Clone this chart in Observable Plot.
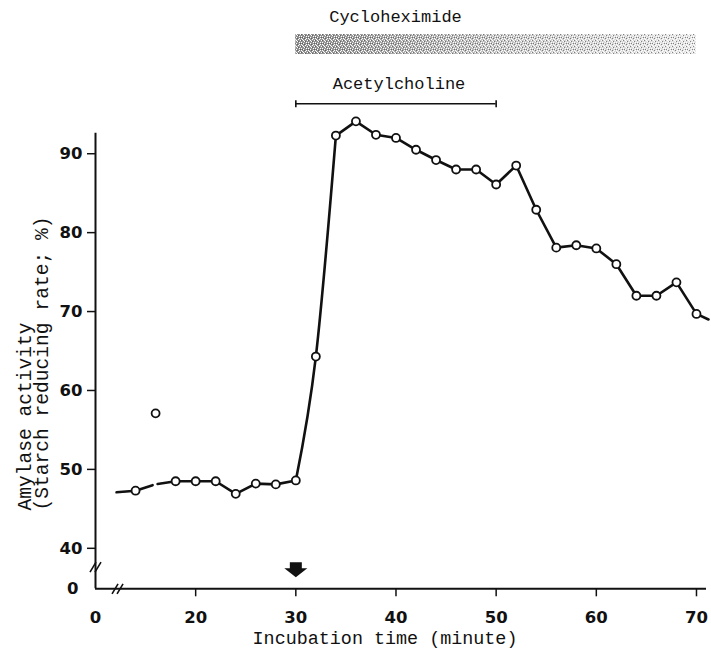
<!DOCTYPE html>
<html>
<head>
<meta charset="utf-8">
<script src="https://cdn.jsdelivr.net/npm/d3@7"></script>
<script src="https://cdn.jsdelivr.net/npm/@observablehq/plot@0.6"></script>
<style>
  html, body { margin: 0; padding: 0; background: #fff; }
</style>
</head>
<body>
<div id="chart"></div>
<script>
// Amylase activity during incubation (minutes), sampled every 2 min
const sampleTime = [14, 16, 18, 20, 22, 24, 26, 28, 30, 32, 34, 36, 38, 40, 42,
                    44, 46, 48, 50, 52, 54, 56, 58, 60, 62, 64, 66, 68, 70];
const sampleValue = [47.3, 57.1, 48.5, 48.5, 48.5, 46.9, 48.2, 48.1, 48.6, 64.3, 92.3, 94.1, 92.4, 92.0, 90.5,
                     89.2, 88.0, 88.0, 86.1, 88.5, 82.9, 78.1, 78.4, 78.0, 76.0, 72.0, 72.0, 73.7, 69.7];
const outlierTime = 16;            // plotted, but left off the trace

// hand-drawn trace: lead-in, break around 16 min, run-out past 70 min
const leadTime = [12.1, 15.7];
const leadValue = [47.1, 48.0];
const resumeTime = [16.2];
const resumeValue = [48.15];
const tailTime = [71.2];
const tailValue = [69.0];
const riseFrom = 30, riseTo = 34;  // smoothed stretch of the trace

// treatment periods (min)
const cycloheximide = [30, 70];
const acetylcholine = [30, 50];
const arrowTime = [30];

// axes
const xTicks = [20, 30, 40, 50, 60, 70];
const yTicks = [40, 50, 60, 70, 80, 90];
const xFloor = 10;      // origin drawn after the axis break, labelled 0
const yFloor = 34.87;   // likewise on the activity axis
const yTop = 92.6;

const xTitle = "Incubation time (minute)";
const yTitle = ["Amylase activity", "(Starch reducing rate; %)"];

const samples = sampleTime.map((t, i) => ({t, v: sampleValue[i]}));
const traced = samples.filter(d => d.t !== outlierTime);
const leadSeg = [
  {t: leadTime[0], v: leadValue[0]},
  ...traced.filter(d => d.t < leadTime[1]),
  {t: leadTime[1], v: leadValue[1]}
];
const baseSeg = [
  {t: resumeTime[0], v: resumeValue[0]},
  ...traced.filter(d => d.t > resumeTime[0] && d.t <= riseFrom)
];
const riseSeg = traced.filter(d => d.t >= riseFrom && d.t <= riseTo);
const plateauSeg = [
  ...traced.filter(d => d.t >= riseTo),
  {t: tailTime[0], v: tailValue[0]}
];

// small glyphs drawn through Plot.dot
const capSymbol = {draw(ctx) { ctx.moveTo(0, -3.5); ctx.lineTo(0, 3.5); }};
const arrowSymbol = {draw(ctx) {
  ctx.moveTo(-6, -7.5); ctx.lineTo(6, -7.5); ctx.lineTo(6, -1.5); ctx.lineTo(11.5, -1.5);
  ctx.lineTo(0, 7.5); ctx.lineTo(-11.5, -1.5); ctx.lineTo(-6, -1.5); ctx.closePath();
}};
const breakSymbol = {draw(ctx) {
  ctx.moveTo(-5.5, 5); ctx.lineTo(0.5, -5);
  ctx.moveTo(-0.5, 5); ctx.lineTo(5.5, -5);
}};

const ink = "#111";
const tickFont = {fontFamily: "DejaVu Sans", fontWeight: "bold", fontSize: 16.5};
const typeFont = {fontFamily: "Liberation Mono", fill: ink};
const lineStyle = {x: "t", y: "v", stroke: ink, strokeWidth: 2.6, strokeLinejoin: "round"};

const chart = Plot.plot({
  width: 711,
  height: 654,
  marginLeft: 95,
  marginRight: 5,
  marginTop: 132.7,
  marginBottom: 65.7,
  style: {background: "white", color: ink},
  x: {domain: [xFloor, 71]},
  y: {domain: [yFloor, yTop]},
  marks: [
    // cycloheximide exposure band
    Plot.rect([cycloheximide], {x1: d => d[0], x2: d => d[1], insetTop: -98.7, insetBottom: 534.3,
      fill: "url(#cyclo-shade)"}),
    Plot.rect([cycloheximide], {x1: d => d[0], x2: d => d[1], insetTop: -98.7, insetBottom: 534.3,
      fill: "url(#cyclo-grain)"}),
    Plot.text(["Cycloheximide"], {text: d => d, frameAnchor: "top", dx: -5.5, dy: -116.4,
      lineAnchor: "middle", fontSize: 17, ...typeFont}),

    // acetylcholine period
    Plot.ruleY([acetylcholine], {y: () => yTop, x1: d => d[0], x2: d => d[1], dy: -29.4,
      stroke: ink, strokeWidth: 1.6}),
    Plot.dot(acetylcholine, {x: d => d, y: () => yTop, dy: -29.4, symbol: capSymbol,
      stroke: ink, fill: "none", strokeWidth: 1.6}),
    Plot.text(["Acetylcholine"], {text: d => d, frameAnchor: "top", dx: -2, dy: -49.8,
      lineAnchor: "middle", fontSize: 17, ...typeFont}),

    // axes
    Plot.ruleX([xFloor], {stroke: ink, strokeWidth: 2}),
    Plot.ruleY([yFloor], {stroke: ink, strokeWidth: 2}),
    Plot.axisX(xTicks, {tickSize: 8, tickPadding: 14, label: null, stroke: ink, strokeWidth: 1.5, ...tickFont}),
    Plot.axisX([xFloor], {tickSize: 0, tickPadding: 22, label: null, tickFormat: () => "0", ...tickFont}),
    Plot.axisY(yTicks, {tickSize: 8, tickPadding: 5, label: null, stroke: ink, strokeWidth: 1.5, ...tickFont}),
    Plot.axisY([yFloor], {tickSize: 0, tickPadding: 17, label: null, tickFormat: () => "0", ...tickFont}),
    Plot.dot([12.2], {x: d => d, frameAnchor: "bottom", symbol: breakSymbol,
      stroke: ink, fill: "none", strokeWidth: 1.6}),
    Plot.dot([0], {frameAnchor: "bottom-left", dy: -21.6, symbol: breakSymbol,
      stroke: ink, fill: "none", strokeWidth: 1.6}),
    Plot.text([xTitle], {text: d => d, frameAnchor: "bottom", dx: -16, dy: 49.7,
      lineAnchor: "middle", fontSize: 18.4, ...typeFont}),
    Plot.text([yTitle.join("\n")], {text: d => d, frameAnchor: "bottom-left", rotate: -90,
      textAnchor: "start", lineAnchor: "middle", fontSize: 19.6, lineHeight: 0.86, dx: -61.5, dy: -78.3,
      ...typeFont}),

    // addition marker
    Plot.dot(arrowTime, {x: d => d, frameAnchor: "bottom", dy: -19, symbol: arrowSymbol,
      fill: ink, stroke: "none"}),

    // activity trace and samples
    Plot.line(leadSeg, lineStyle),
    Plot.line(baseSeg, lineStyle),
    Plot.line(riseSeg, {...lineStyle, curve: "monotone-x"}),
    Plot.line(plateauSeg, lineStyle),
    Plot.dot(samples, {x: "t", y: "v", r: 4, fill: "white", stroke: ink, strokeWidth: 1.8})
  ]
});

// band shading and grain
const svg = d3.select(chart);
const defs = svg.insert("defs", ":first-child");
const grad = defs.append("linearGradient").attr("id", "cyclo-shade")
  .attr("x1", 0).attr("x2", 1).attr("y1", 0).attr("y2", 0);
grad.append("stop").attr("offset", "0%").attr("stop-color", "#8f8f8f");
grad.append("stop").attr("offset", "30%").attr("stop-color", "#b0b0b0");
grad.append("stop").attr("offset", "60%").attr("stop-color", "#cdcdcd");
grad.append("stop").attr("offset", "100%").attr("stop-color", "#e6e6e6");
const grain = defs.append("pattern").attr("id", "cyclo-grain")
  .attr("width", 7).attr("height", 6).attr("patternUnits", "userSpaceOnUse");
[[0, 0], [2, 1], [5, 0], [4, 3], [1, 3], [6, 4], [3, 5], [0, 2], [5, 2], [2, 4]].forEach(([x, y]) =>
  grain.append("rect").attr("x", x).attr("y", y).attr("width", 1).attr("height", 1).attr("fill", "#fff"));
[[1, 1], [3, 2], [6, 1], [4, 5], [0, 4]].forEach(([x, y]) =>
  grain.append("rect").attr("x", x).attr("y", y).attr("width", 1).attr("height", 1)
    .attr("fill", "#333").attr("fill-opacity", 0.55));

document.getElementById("chart").appendChild(chart);
</script>
</body>
</html>
